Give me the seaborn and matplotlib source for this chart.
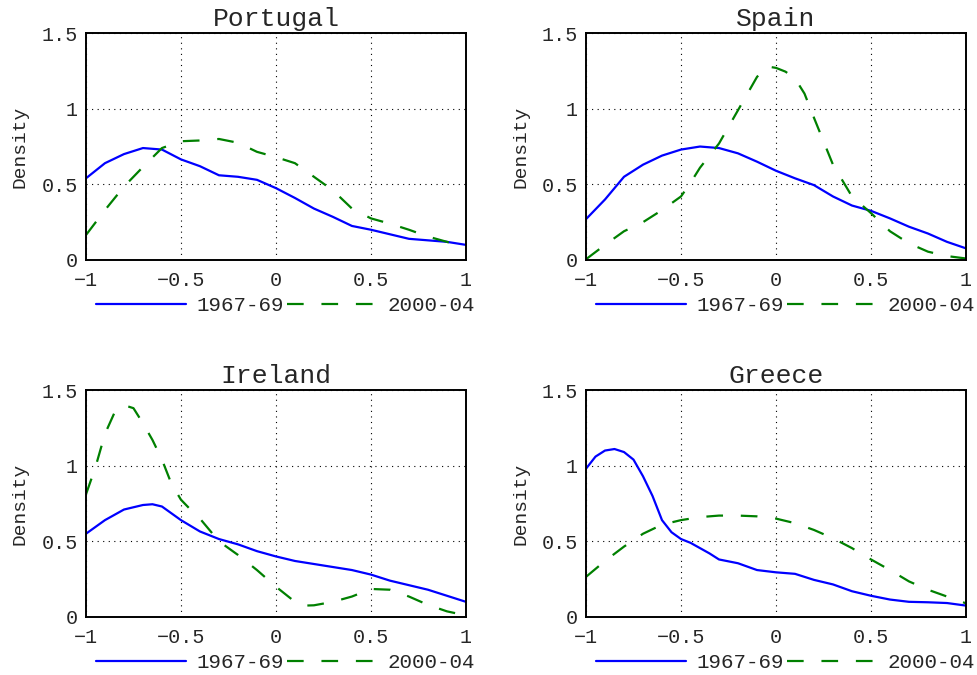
import numpy as np
import pandas as pd
import seaborn as sns
import matplotlib
matplotlib.use("Agg")
import matplotlib.pyplot as plt

# Income distribution densities, two periods per country
countries = ["Portugal", "Spain", "Ireland", "Greece"]
periods = ["1967-69", "2000-04"]

x_grid = [-1.0, -0.9, -0.8, -0.7, -0.6, -0.5, -0.4, -0.3, -0.2, -0.1, 0.0,
          0.1, 0.2, 0.3, 0.4, 0.5, 0.6, 0.7, 0.8, 0.9, 1.0]

portugal_6769 = [0.54, 0.64, 0.70, 0.74, 0.73, 0.665, 0.62, 0.56, 0.55, 0.53, 0.475,
                 0.41, 0.34, 0.285, 0.225, 0.20, 0.17, 0.14, 0.13, 0.12, 0.10]
portugal_0004 = [0.165, 0.33, 0.485, 0.615, 0.74, 0.785, 0.79, 0.80, 0.775, 0.715, 0.68,
                 0.64, 0.55, 0.46, 0.34, 0.275, 0.24, 0.20, 0.155, 0.12, 0.077]

spain_6769 = [0.27, 0.40, 0.55, 0.63, 0.69, 0.73, 0.75, 0.74, 0.705, 0.65, 0.59,
              0.54, 0.495, 0.42, 0.36, 0.325, 0.275, 0.22, 0.175, 0.12, 0.077]
spain_x_0004 = [-1.0, -0.9, -0.8, -0.7, -0.6, -0.5, -0.45, -0.4, -0.3, -0.2, -0.1, -0.05,
                0.0, 0.05, 0.1, 0.15, 0.2, 0.3, 0.4, 0.5, 0.6, 0.7, 0.8, 0.9, 1.0]
spain_0004 = [0.005, 0.10, 0.19, 0.25, 0.33, 0.42, 0.51, 0.61, 0.77, 0.99, 1.21, 1.28,
              1.27, 1.245, 1.20, 1.10, 0.94, 0.63, 0.42, 0.31, 0.19, 0.11, 0.055, 0.026, 0.01]

ireland_x_6769 = [-1.0, -0.9, -0.8, -0.7, -0.65, -0.6, -0.5, -0.4, -0.3, -0.2, -0.1, 0.0,
                  0.1, 0.2, 0.3, 0.4, 0.5, 0.6, 0.7, 0.8, 0.9, 1.0]
ireland_6769 = [0.55, 0.64, 0.71, 0.74, 0.745, 0.73, 0.64, 0.565, 0.515, 0.48, 0.435, 0.40,
                0.37, 0.35, 0.33, 0.31, 0.28, 0.24, 0.21, 0.18, 0.14, 0.10]
ireland_x_0004 = [-1.0, -0.95, -0.9, -0.85, -0.8, -0.75, -0.7, -0.65, -0.6, -0.55, -0.5,
                  -0.45, -0.4, -0.3, -0.2, -0.1, 0.0, 0.1, 0.15, 0.2, 0.3, 0.4, 0.5,
                  0.6, 0.7, 0.8, 0.9, 1.0]
ireland_0004 = [0.81, 0.99, 1.21, 1.35, 1.40, 1.38, 1.28, 1.17, 1.04, 0.88, 0.775,
                0.71, 0.65, 0.50, 0.41, 0.31, 0.20, 0.10, 0.075, 0.077, 0.10, 0.135, 0.185,
                0.18, 0.135, 0.08, 0.037, 0.01]

greece_x_6769 = [-1.0, -0.95, -0.9, -0.85, -0.8, -0.75, -0.7, -0.65, -0.6, -0.55, -0.5,
                 -0.45, -0.4, -0.35, -0.3, -0.2, -0.1, 0.0, 0.1, 0.2, 0.3, 0.4, 0.5,
                 0.6, 0.7, 0.8, 0.9, 1.0]
greece_6769 = [0.98, 1.06, 1.10, 1.11, 1.09, 1.04, 0.93, 0.80, 0.64, 0.56, 0.515,
               0.49, 0.455, 0.42, 0.38, 0.355, 0.31, 0.295, 0.285, 0.245, 0.215, 0.17, 0.14,
               0.115, 0.10, 0.097, 0.092, 0.075]
greece_0004 = [0.265, 0.37, 0.465, 0.55, 0.61, 0.64, 0.66, 0.67, 0.67, 0.665, 0.65,
               0.62, 0.575, 0.52, 0.455, 0.38, 0.31, 0.235, 0.18, 0.135, 0.09]

series = {
    "Portugal": [(x_grid, portugal_6769), (x_grid, portugal_0004)],
    "Spain": [(x_grid, spain_6769), (spain_x_0004, spain_0004)],
    "Ireland": [(ireland_x_6769, ireland_6769), (ireland_x_0004, ireland_0004)],
    "Greece": [(greece_x_6769, greece_6769), (x_grid, greece_0004)],
}

x_ticks = [-1, -0.5, 0, 0.5, 1]
x_tick_labels = ["\u22121", "\u22120.5", "0", "0.5", "1"]
y_ticks = [0, 0.5, 1, 1.5]
y_tick_labels = ["0", "0.5", "1", "1.5"]

sns.set_style("white")
plt.rcParams["font.family"] = ["Liberation Mono", "DejaVu Sans Mono"]

colors = ["#0000ff", "#008000"]
styles = ["-", (0, (7.5, 8))]

fig, axes = plt.subplots(2, 2, figsize=(9.78, 6.75), dpi=100)
fig.subplots_adjust(left=0.0879, right=0.9877, top=0.951, bottom=0.086,
                    wspace=0.316, hspace=0.573)

for ax, country in zip(axes.flat, countries):
    frames = []
    for period, (xs, ys) in zip(periods, series[country]):
        frames.append(pd.DataFrame({"x": xs, "density": ys, "period": period}))
    df = pd.concat(frames, ignore_index=True)
    for period, color, ls in zip(periods, colors, styles):
        sub = df[df["period"] == period]
        sns.lineplot(data=sub, x="x", y="density", ax=ax, color=color,
                     linestyle=ls, linewidth=1.6, label=period, sort=False)

    ax.set_xlim(-1, 1)
    ax.set_ylim(0, 1.5)
    ax.set_xticks(x_ticks)
    ax.set_xticklabels(x_tick_labels)
    ax.set_yticks(y_ticks)
    ax.set_yticklabels(y_tick_labels)
    ax.tick_params(axis="both", labelsize=14.5, direction="in", length=4,
                   width=0.8, color="black")
    ax.tick_params(axis="x", pad=8)
    ax.tick_params(axis="y", pad=6)
    ax.grid(True, linestyle=(0, (1, 4)), color="black", linewidth=0.8)
    for sp in ax.spines.values():
        sp.set_visible(True)
        sp.set_color("black")
        sp.set_linewidth(1.4)
    ax.set_title(country, fontsize=19, pad=5)
    ax.set_xlabel("")
    ax.set_ylabel("Density", fontsize=14)
    ax.yaxis.set_label_coords(-0.15, 0.5)
    ax.legend(loc="center", bbox_to_anchor=(0.525, -0.2), ncol=2, frameon=False,
              fontsize=15, handlelength=4.3, handletextpad=0.5, columnspacing=0.15,
              borderaxespad=0)

fig.savefig("out.png", dpi=100)
